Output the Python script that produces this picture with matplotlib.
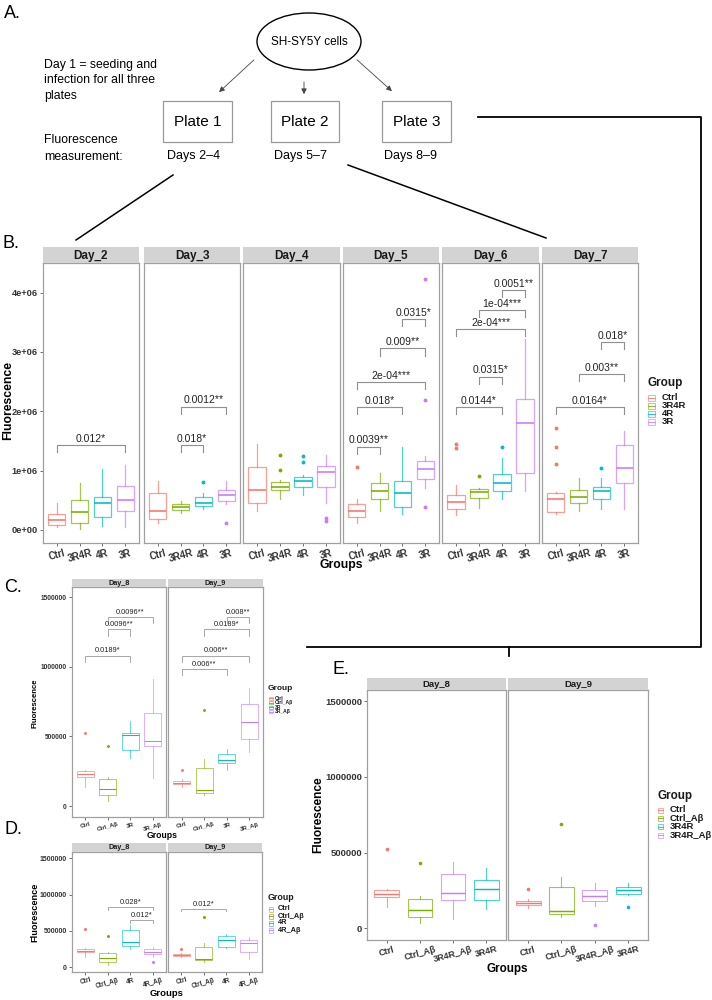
import matplotlib
matplotlib.use("Agg")
import matplotlib.pyplot as plt
from matplotlib.patches import Rectangle, Ellipse
from matplotlib.colors import to_rgba

plt.rcParams['font.family'] = ['Liberation Sans', 'DejaVu Sans']

# ---------------- data (fluorescence in millions) ----------------
# box rows: [q1, median, q3, lower whisker, upper whisker]
B_days = ["Day_2", "Day_3", "Day_4", "Day_5", "Day_6", "Day_7"]
B_groups = ["Ctrl", "3R4R", "4R", "3R"]
b_ctrl_box = [[0.09, 0.16, 0.27, 0.045, 0.45], [0.18, 0.32, 0.62, 0.11, 0.83],
              [0.455, 0.68, 1.06, 0.315, 1.45], [0.225, 0.32, 0.433, 0.112, 0.517],
              [0.349, 0.472, 0.585, 0.253, 0.754], [0.309, 0.517, 0.619, 0.264, 0.64]]
b_ctrl_out = [[], [], [], [1.068], [1.455, 1.388], [1.715, 1.40, 1.113]]
b_3r4r_box = [[0.11, 0.30, 0.50, 0.02, 0.79], [0.34, 0.38, 0.43, 0.29, 0.49],
              [0.67, 0.73, 0.80, 0.53, 0.85], [0.517, 0.663, 0.787, 0.326, 0.967],
              [0.535, 0.635, 0.686, 0.376, 0.70], [0.45, 0.551, 0.675, 0.326, 0.882]]
b_3r4r_out = [[], [], [1.265, 1.006], [], [0.91], []]
b_4r_box = [[0.21, 0.455, 0.55, 0.06, 1.02], [0.41, 0.455, 0.56, 0.35, 0.62],
            [0.73, 0.83, 0.89, 0.585, 0.93], [0.393, 0.618, 0.826, 0.264, 1.394],
            [0.663, 0.787, 0.939, 0.523, 1.22], [0.517, 0.658, 0.72, 0.349, 0.871]]
b_4r_out = [[], [0.80], [1.25, 1.15], [], [1.394], [1.045]]
b_3r_box = [[0.315, 0.50, 0.737, 0.045, 1.096], [0.494, 0.585, 0.68, 0.438, 0.83],
            [0.73, 0.973, 1.08, 0.45, 1.265], [0.855, 1.023, 1.158, 0.70, 1.248],
            [0.967, 1.804, 2.214, 0.663, 3.216], [0.787, 1.045, 1.433, 0.349, 1.67]]
b_3r_out = [[], [0.113], [0.207, 0.157], [0.393, 2.187, 4.228], [], []]
B_brackets = [
    [(1, 4, 1.43, "0.012*")],
    [(2, 3, 1.43, "0.018*"), (2, 4, 2.08, "0.0012**")],
    [],
    [(1, 2, 1.405, "0.0039**"), (1, 3, 2.07, "0.018*"), (1, 4, 2.50, "2e-04***"),
     (2, 4, 3.06, "0.009**"), (3, 4, 3.56, "0.0315*")],
    [(1, 3, 2.07, "0.0144*"), (2, 3, 2.585, "0.0315*"), (1, 4, 3.384, "2e-04***"),
     (2, 4, 3.71, "1e-04***"), (3, 4, 4.047, "0.0051**")],
    [(1, 4, 2.07, "0.0164*"), (2, 4, 2.63, "0.003**"), (3, 4, 3.165, "0.018*")],
]
B_yticks = [0, 1, 2, 3, 4]
B_yticklabels = ["0e+00", "1e+06", "2e+06", "3e+06", "4e+06"]

L_days = ["Day_8", "Day_9"]
ctrl_box = [[0.205, 0.228, 0.252, 0.14, 0.26], [0.155, 0.165, 0.18, 0.135, 0.192]]
ctrl_out = [[0.522], [0.257]]
ctrlab_box = [[0.076, 0.123, 0.192, 0.036, 0.211], [0.097, 0.115, 0.275, 0.078, 0.338]]
ctrlab_out = [[0.429], [0.69]]
r3_box = [[0.40, 0.508, 0.522, 0.347, 0.613], [0.312, 0.333, 0.371, 0.259, 0.407]]
r3ab_box = [[0.431, 0.465, 0.666, 0.204, 0.911], [0.482, 0.601, 0.731, 0.39, 0.85]]
r4_box = [[0.294, 0.344, 0.509, 0.252, 0.583], [0.275, 0.376, 0.427, 0.261, 0.454]]
r4ab_box = [[0.179, 0.216, 0.252, 0.147, 0.284], [0.206, 0.330, 0.376, 0.115, 0.422]]
r4ab_out = [[0.078], []]
r34ab_box = [[0.185, 0.231, 0.359, 0.059, 0.436], [0.178, 0.213, 0.251, 0.147, 0.297]]
r34ab_out = [[], [0.022]]
r34_box = [[0.185, 0.26, 0.319, 0.128, 0.398], [0.225, 0.253, 0.271, 0.22, 0.297]]
r34_out = [[], [0.141]]
no_out = [[], []]

C_groups = ["Ctrl", "Ctrl_Aβ", "3R", "3R_Aβ"]
C_brackets = [
    [(1, 3, 1.081, "0.0189*"), (2, 3, 1.27, "0.0096**"), (2, 4, 1.361, "0.0096**")],
    [(1, 3, 0.985, "0.006**"), (1, 4, 1.081, "0.006**"), (2, 4, 1.27, "0.0189*"),
     (3, 4, 1.361, "0.008**")],
]
D_groups = ["Ctrl", "Ctrl_Aβ", "4R", "4R_Aβ"]
D_brackets = [[(2, 4, 0.826, "0.028*"), (3, 4, 0.651, "0.012*")],
              [(1, 3, 0.803, "0.012*")]]
E_groups = ["Ctrl", "Ctrl_Aβ", "3R4R_Aβ", "3R4R"]
E_legend = ["Ctrl", "Ctrl_Aβ", "3R4R", "3R4R_Aβ"]
L_yticks = [0, 0.5, 1.0, 1.5]
L_yticklabels = ["0", "500000", "1000000", "1500000"]

HUE = ['#F8766D', '#7CAE00', '#00BFC4', '#C77CFF']

# ---------------- figure ----------------
W, H = 712, 1000
fig = plt.figure(figsize=(7.12, 10), dpi=100)


def rect(x0, y0, x1, y1):
    return [x0 / W, 1 - y1 / H, (x1 - x0) / W, (y1 - y0) / H]


ov = fig.add_axes([0, 0, 1, 1])
ov.set_xlim(0, W)
ov.set_ylim(H, 0)
ov.axis('off')


def mkstats(box, out):
    q1, med, q3, lo, hi = box
    return dict(q1=q1, med=med, q3=q3, whislo=lo, whishi=hi, fliers=out)


def facet(px, strip_h, title, labels, colors, stats, brackets, ylim, show_y,
          fs_tick, fs_xtick, fs_strip, fs_br, lw, ms, tip, yticks, yticklabels):
    x0, y0, x1, y1 = px
    ax = fig.add_axes(rect(x0, y0, x1, y1))
    sx = fig.add_axes(rect(x0, y0 - strip_h, x1, y0))
    sx.set_xticks([]); sx.set_yticks([])
    sx.set_facecolor('#D3D3D3')
    for s in sx.spines.values():
        s.set_visible(False)
    sx.text(0.5, 0.45, title, ha='center', va='center', fontsize=fs_strip,
            fontweight='bold', color='#1A1A1A', transform=sx.transAxes)
    pos = list(range(1, len(labels) + 1))
    bp = ax.bxp(stats, positions=pos, widths=0.75, patch_artist=True,
                showcaps=False, showfliers=True, manage_ticks=False)
    for i, c in enumerate(colors):
        b = bp['boxes'][i]
        b.set_facecolor('white')
        b.set_edgecolor(to_rgba(c, 0.7))
        b.set_linewidth(lw)
        bp['medians'][i].set_color(c)
        bp['medians'][i].set_linewidth(lw * 1.3)
        for w in bp['whiskers'][2 * i:2 * i + 2]:
            w.set_color(to_rgba(c, 0.7))
            w.set_linewidth(lw)
        f = bp['fliers'][i]
        f.set_marker('o'); f.set_markersize(ms)
        f.set_markerfacecolor(c); f.set_markeredgecolor(c)
    for a, b_, yv, lab in brackets:
        ax.plot([a, a, b_, b_], [yv - tip, yv, yv, yv - tip], color='#8F8F8F',
                lw=lw * 0.9)
        ax.annotate(lab, xy=((a + b_) / 2, yv), xytext=(0, 0.8),
                    textcoords='offset points', ha='center', va='bottom',
                    fontsize=fs_br, color='#222222')
    ax.set_xlim(0.4, len(labels) + 0.6)
    ax.set_ylim(*ylim)
    ax.set_xticks(pos)
    ax.set_xticklabels(labels, rotation=15, fontsize=fs_xtick,
                       fontweight='bold', color='#333333')
    ax.set_yticks(yticks)
    if show_y:
        ax.set_yticklabels(yticklabels, fontsize=fs_tick, fontweight='bold',
                           color='#333333')
        ax.tick_params(axis='y', length=2.2, width=0.6, color='#555555', pad=1.5)
    else:
        ax.tick_params(axis='y', left=False, labelleft=False)
    ax.tick_params(axis='x', length=2.2, width=0.6, color='#555555', pad=1.2)
    for s in ax.spines.values():
        s.set_color('#A0A0A0')
        s.set_linewidth(0.9)
    return ax


def legend(x, y_title, ys, labels, colors, fs_t, fs_i, kw, kh, tx):
    ov.text(x, y_title, "Group", fontsize=fs_t, fontweight='bold', ha='left',
            va='center', color='#1A1A1A')
    for y, lab, c in zip(ys, labels, colors):
        ov.add_patch(Rectangle((x + kw * 0.15, y - kh / 2), kw * 0.7, kh,
                               fill=False, ec=to_rgba(c, 0.7), lw=0.6))
        ov.plot([x + kw * 0.15, x + kw * 0.85], [y, y], color=c, lw=0.6)
        ov.text(tx, y, lab, fontsize=fs_i, fontweight='bold', ha='left',
                va='center', color='#1A1A1A')


# ---------------- panel A (diagram) ----------------
ov.text(4, 14, "A.", fontsize=13, ha='left', va='center')
ov.add_patch(Ellipse((309, 41.5), 104, 57, fill=False, ec='black', lw=1.0))
ov.text(309, 42, "SH-SY5Y cells", fontsize=8.5, ha='center', va='center')
for (sx_, sy_), (ex_, ey_) in [((256, 58), (217, 94)), ((304, 79), (304, 97)),
                               ((355, 58), (394, 93))]:
    ov.annotate("", xy=(ex_, ey_), xytext=(sx_, sy_),
                arrowprops=dict(arrowstyle='-|>', color='#444444', lw=0.6,
                                mutation_scale=8))
ov.text(44, 65, "Day 1 = seeding and", fontsize=8.8, ha='left', va='center')
ov.text(44, 80, "infection for all three", fontsize=8.8, ha='left', va='center')
ov.text(44, 96, "plates", fontsize=8.8, ha='left', va='center')
ov.text(44, 140, "Fluorescence", fontsize=8.8, ha='left', va='center')
ov.text(44, 157, "measurement:", fontsize=8.8, ha='left', va='center')
for (bx0, bx1), name, dname, dx in [((163, 232), "Plate 1", "Days 2–4", 194),
                                    ((271, 339), "Plate 2", "Days 5–7", 301),
                                    ((382, 451), "Plate 3", "Days 8–9", 411)]:
    ov.add_patch(Rectangle((bx0, 101), bx1 - bx0, 41, fill=False,
                           ec='#999999', lw=0.9))
    ov.text((bx0 + bx1) / 2, 122, name, fontsize=11, ha='center', va='center')
    ov.text(dx, 156, dname, fontsize=9, ha='center', va='center')

# connector lines
ov.plot([173, 76], [175, 240], color='black', lw=1.1)
ov.plot([348, 546], [165, 238], color='black', lw=1.1)
ov.plot([478, 701, 701, 307], [117, 117, 647, 647], color='black', lw=1.3)
ov.plot([509, 509], [647, 656], color='black', lw=1.3)

# ---------------- panel B ----------------
ov.text(2, 244, "B.", fontsize=13, ha='left', va='center')
B_x = [(43, 139), (144, 240), (243, 340), (343, 439), (442, 539), (542, 638)]
for d, day in enumerate(B_days):
    st = [mkstats(b_ctrl_box[d], b_ctrl_out[d]), mkstats(b_3r4r_box[d], b_3r4r_out[d]),
          mkstats(b_4r_box[d], b_4r_out[d]), mkstats(b_3r_box[d], b_3r_out[d])]
    facet((B_x[d][0], 263, B_x[d][1], 543), 16, day, B_groups, HUE, st,
          B_brackets[d], (-0.22, 4.5), d == 0, 6.7, 7, 8.5, 7.5, 0.9, 1.8,
          0.12, B_yticks, B_yticklabels)
ov.text(8, 400, "Fluorescence", fontsize=8.8, fontweight='bold', rotation=90,
        ha='center', va='center')
ov.text(341, 565, "Groups", fontsize=8.8, fontweight='bold', ha='center', va='center')
legend(647, 383, [398, 406, 414, 422], B_groups, HUE, 8.5, 6.8, 9, 6, 662)

# ---------------- panel C ----------------
ov.text(4, 588, "C.", fontsize=13, ha='left', va='center')
C_x = [(72, 166), (168, 263)]
for d, day in enumerate(L_days):
    st = [mkstats(ctrl_box[d], ctrl_out[d]), mkstats(ctrlab_box[d], ctrlab_out[d]),
          mkstats(r3_box[d], no_out[d]), mkstats(r3ab_box[d], no_out[d])]
    facet((C_x[d][0], 587, C_x[d][1], 817), 8, day, C_groups, HUE, st,
          C_brackets[d], (-0.079, 1.574), d == 0, 4.8, 4.4, 5.2, 5.3, 0.6, 1.1,
          0.045, L_yticks, L_yticklabels)
ov.text(35, 703, "Fluorescence", fontsize=5.6, fontweight='bold', rotation=90,
        ha='center', va='center')
ov.text(162, 835, "Groups", fontsize=6.2, fontweight='bold', ha='center', va='center')
legend(268, 689, [698, 702.6, 707.2, 711.8], C_groups, HUE, 6, 3.6, 6, 3.0, 275)

# ---------------- panel D ----------------
ov.text(4, 830, "D.", fontsize=13, ha='left', va='center')
D_x = [(72, 166), (168, 262)]
for d, day in enumerate(L_days):
    st = [mkstats(ctrl_box[d], ctrl_out[d]), mkstats(ctrlab_box[d], ctrlab_out[d]),
          mkstats(r4_box[d], no_out[d]), mkstats(r4ab_box[d], r4ab_out[d])]
    facet((D_x[d][0], 852, D_x[d][1], 972), 9, day, D_groups, HUE, st,
          D_brackets[d], (-0.065, 1.587), d == 0, 5, 4.7, 5.2, 5.4, 0.6, 1.2,
          0.035, L_yticks, L_yticklabels)
ov.text(35, 912, "Fluorescence", fontsize=6.6, fontweight='bold', rotation=90,
        ha='center', va='center')
ov.text(167, 994, "Groups", fontsize=6.8, fontweight='bold', ha='center', va='center')
legend(268, 897, [909, 916, 923, 930], D_groups, HUE, 6.4, 5.3, 6, 5, 278)

# ---------------- panel E ----------------
ov.text(333, 670, "E.", fontsize=13, ha='left', va='center')
E_x = [(367, 506), (508, 648)]
E_colors = [HUE[0], HUE[1], HUE[3], HUE[2]]
for d, day in enumerate(L_days):
    st = [mkstats(ctrl_box[d], ctrl_out[d]), mkstats(ctrlab_box[d], ctrlab_out[d]),
          mkstats(r34ab_box[d], r34ab_out[d]), mkstats(r34_box[d], r34_out[d])]
    facet((E_x[d][0], 690, E_x[d][1], 940), 12, day, E_groups, E_colors, st,
          [], (-0.077, 1.573), d == 0, 6.8, 6.5, 6.8, 7, 0.8, 1.6,
          0.04, L_yticks, L_yticklabels)
ov.text(318, 815, "Fluorescence", fontsize=8.6, fontweight='bold', rotation=90,
        ha='center', va='center')
ov.text(507, 969, "Groups", fontsize=8.4, fontweight='bold', ha='center', va='center')
legend(657, 796, [810, 818.3, 826.7, 835], E_legend, HUE, 8.4, 6.8, 7, 5, 670)

fig.savefig("out.png", dpi=100)
